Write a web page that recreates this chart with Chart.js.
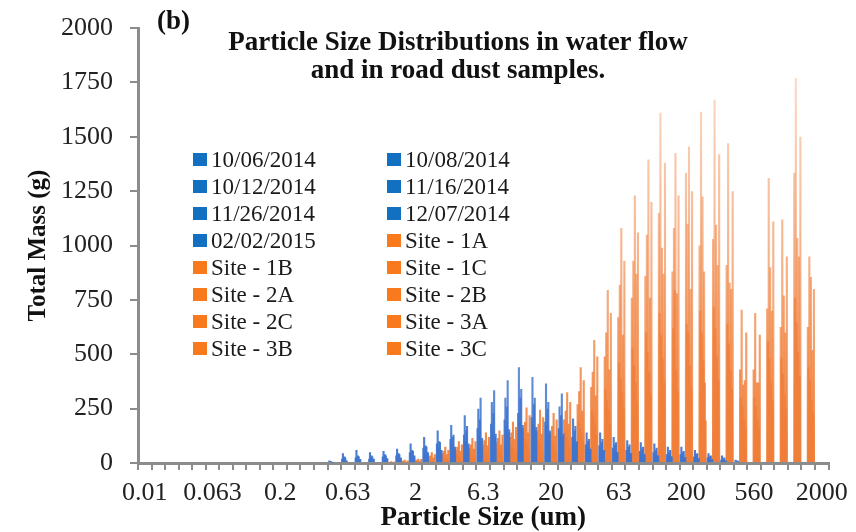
<!DOCTYPE html>
<html>
<head>
<meta charset="utf-8">
<script src="https://cdn.jsdelivr.net/npm/chart.js@4.4.1/dist/chart.umd.min.js"></script>
<style>
  html, body { margin: 0; padding: 0; background: #fff; }
</style>
</head>
<body>
<canvas id="chart-1" width="856" height="532"></canvas>
<script>
// particle size bins (um), one label shown every 5 bins
const sizes = ["0.01","0.016","0.02","0.025","0.04","0.063","0.08","0.1","0.125","0.16",
  "0.2","0.25","0.315","0.4","0.5","0.63","0.8","1","1.25","1.6",
  "2","2.5","3.15","4","5","6.3","8","10","12.5","16",
  "20","25","31.5","40","50","63","80","100","125","160",
  "200","250","300","355","425","560","630","850","1000","1400","2000"];

// water flow samples (blue)
const dateNames = ["10/06/2014","10/08/2014","10/12/2014","11/16/2014","11/26/2014","12/07/2014","02/02/2015"];
const w1006 = [0,0,0,0,0,0,0,0,0,0,0,0,0,0,5,20,25,20,30,35,50,70,90,110,130,160,180,200,230,210,190,160,120,85,80,70,60,55,50,40,40,30,25,15,5,0,0,0,0,0,0];
const w1008 = [0,0,0,0,0,0,0,0,0,0,0,0,0,0,12,45,60,50,55,65,90,120,150,175,220,250,280,300,440,395,365,260,205,140,140,120,105,95,90,75,75,60,45,35,15,0,0,0,0,0,0];
const w1012 = [0,0,0,0,0,0,0,0,0,0,0,0,0,0,3,15,20,25,25,30,40,55,70,85,100,130,150,170,190,180,170,150,110,70,65,55,50,45,40,35,30,25,20,15,5,0,0,0,0,0,0];
const w1116 = [0,0,0,0,0,0,0,0,0,0,0,0,0,0,8,30,35,35,40,45,60,80,100,120,150,200,230,260,300,270,250,220,150,100,95,85,75,65,60,50,50,40,30,20,10,0,0,0,0,0,0];
const w1126 = [0,0,0,0,0,0,0,0,0,0,0,0,0,0,6,25,30,30,35,40,55,75,95,130,170,300,335,380,340,300,280,320,170,110,110,95,85,75,70,60,55,45,35,25,10,0,0,0,0,0,0];
const w1207 = [0,0,0,0,0,0,0,0,0,0,0,0,0,0,4,10,15,15,20,20,30,45,55,65,80,100,120,140,160,150,140,120,90,60,55,50,45,40,35,30,25,20,15,10,5,0,0,0,0,0,0];
const w0202 = [0,0,0,0,0,0,0,0,0,0,0,0,0,0,2,12,18,20,22,25,35,50,60,75,90,115,135,155,175,165,150,135,100,65,60,50,45,40,35,30,28,22,18,12,4,0,0,0,0,0,0];

// road dust samples (orange)
const siteNames = ["Site - 1A","Site - 1B","Site - 1C","Site - 2A","Site - 2B","Site - 2C","Site - 3A","Site - 3B","Site - 3C"];
const s1A = [0,0,0,0,0,0,0,0,0,0,0,0,0,0,0,0,0,0,3,8,12,30,45,60,70,85,95,120,160,150,140,200,270,350,490,670,760,860,1150,880,1335,1000,1030,910,430,430,710,625,1335,625,0];
const s1B = [0,0,0,0,0,0,0,0,0,0,0,0,0,0,0,0,0,0,0,5,8,20,30,40,50,60,65,80,110,105,100,140,190,245,340,460,530,600,690,620,640,700,720,640,300,300,560,480,760,440,0];
const s1C = [0,0,0,0,0,0,0,0,0,0,0,0,0,0,0,0,0,0,5,10,15,35,55,75,85,105,115,140,190,180,170,240,330,420,600,820,930,1050,1610,1080,1100,1615,1670,1470,705,690,1310,1120,1770,950,0];
const s2A = [0,0,0,0,0,0,0,0,0,0,0,0,0,0,0,0,0,0,2,4,6,15,25,35,40,50,55,70,95,90,85,120,160,210,290,390,450,510,590,795,600,600,620,550,260,260,480,410,650,380,0];
const s2B = [0,0,0,0,0,0,0,0,0,0,0,0,0,0,0,0,0,0,8,15,20,50,75,100,115,140,150,190,255,245,230,325,440,565,795,1080,1230,1395,990,1425,1455,1225,1095,830,360,370,900,770,1035,855,0];
const s2C = [0,0,0,0,0,0,0,0,0,0,0,0,0,0,0,0,0,0,0,3,5,12,20,30,35,45,50,60,80,75,70,100,135,175,245,330,370,420,480,430,450,470,490,430,200,200,370,320,510,290,0];
const s3A = [0,0,0,0,0,0,0,0,0,0,0,0,0,0,0,0,0,0,4,6,10,25,40,55,65,80,85,110,140,135,125,180,240,310,430,590,870,760,870,780,800,880,910,800,380,370,700,600,950,520,0];
const s3B = [0,0,0,0,0,0,0,0,0,0,0,0,0,0,0,0,0,0,0,2,4,10,15,20,25,30,35,45,60,55,50,75,100,130,180,250,280,320,370,330,340,370,380,340,160,160,290,250,400,230,0];
const s3C = [0,0,0,0,0,0,0,0,0,0,0,0,0,0,0,0,0,0,6,12,18,40,60,85,100,120,130,165,220,210,200,280,380,490,690,930,1060,1200,1380,1230,1250,195,1420,1250,600,590,1110,950,1500,800,0];

const yTicks = [0, 250, 500, 750, 1000, 1250, 1500, 1750, 2000];

const serif = "'Liberation Serif', 'Times New Roman', serif";
const axisGrey = '#8c8c8c';

// bars fade out towards the top like the excel gradient fill
function fade(rgb) {
  return function(c) {
    const a = c.chart.chartArea;
    if (!a) return 'rgba(' + rgb + ',0.8)';
    const g = c.chart.ctx.createLinearGradient(0, a.bottom, 0, a.top);
    g.addColorStop(0, 'rgba(' + rgb + ',0.95)');
    g.addColorStop(1, 'rgba(' + rgb + ',0.2)');
    return g;
  };
}

const waterSets = [w1006, w1008, w1012, w1116, w1126, w1207, w0202];
const siteSets = [s1A, s1B, s1C, s2A, s2B, s2C, s3A, s3B, s3C];

const datasets = [];
waterSets.forEach(function(d, i) {
  datasets.push({ label: dateNames[i], data: d, backgroundColor: fade('62,116,206'), legendColor: '#1170c0' });
});
siteSets.forEach(function(d, i) {
  datasets.push({ label: siteNames[i], data: d, backgroundColor: fade('240,126,56'), legendColor: '#f97a1c' });
});

// 2-column legend inside the plot, plus the "(b)" tag and title
const innerText = {
  id: 'innerText',
  afterDraw(chart) {
    const ctx = chart.ctx;
    ctx.save();
    ctx.textBaseline = 'middle';
    ctx.font = 'bold 27px ' + serif;
    ctx.fillStyle = '#111';
    ctx.textAlign = 'left';
    ctx.fillText('(b)', 157, 22);
    ctx.textAlign = 'center';
    ctx.fillText('Particle Size Distributions in water flow', 458, 43);
    ctx.fillText('and in road dust samples.', 458, 71);

    ctx.font = '23px ' + serif;
    ctx.textAlign = 'left';
    chart.data.datasets.forEach(function(ds, i) {
      const x = 193 + (i % 2) * 194;
      const y = 160 + Math.floor(i / 2) * 27;
      ctx.fillStyle = ds.legendColor;
      ctx.fillRect(x, y - 7, 14, 13);
      ctx.fillStyle = '#1a1a1a';
      ctx.fillText(ds.label, x + 18, y + 1);
    });
    ctx.restore();
  }
};

new Chart(document.getElementById("chart-1"), {
  type: 'bar',
  data: { labels: sizes, datasets: datasets },
  options: {
    responsive: false,
    animation: false,
    layout: { padding: { left: 0, top: 28, right: 26, bottom: 0 } },
    datasets: { bar: { categoryPercentage: 0.9, barPercentage: 2.8, borderWidth: 0 } },
    plugins: {
      legend: { display: false },
      title: { display: false },
      tooltip: { enabled: false }
    },
    scales: {
      x: {
        grid: { drawOnChartArea: false, tickLength: 7, color: axisGrey, lineWidth: 2 },
        border: { color: axisGrey, width: 3 },
        ticks: {
          autoSkip: false, maxRotation: 0, padding: 8, color: '#222',
          font: { family: serif, size: 26 },
          callback: function(v, i) { return i % 5 === 0 ? sizes[i] : ''; }
        },
        title: { display: true, text: 'Particle Size (um)', color: '#111',
          font: { family: serif, size: 27, weight: 'bold' }, padding: { top: 0, bottom: -2 } },
        afterFit: function(s) { s.height = 69; }
      },
      y: {
        min: 0, max: 2000,
        afterBuildTicks: function(s) { s.ticks = yTicks.map(function(v) { return { value: v }; }); },
        grid: { drawOnChartArea: false, tickLength: 8, color: axisGrey, lineWidth: 2 },
        border: { color: axisGrey, width: 3 },
        ticks: { padding: 17, color: '#222', font: { family: serif, size: 26 },
          callback: function(v) { return String(v); } },
        title: { display: true, text: 'Total Mass (g)', color: '#111',
          font: { family: serif, size: 25, weight: 'bold' }, padding: { top: 24, bottom: 0 } },
        afterFit: function(s) { s.width = 138; s.paddingTop = 4; s.paddingBottom = 4; }
      }
    }
  },
  plugins: [innerText]
});
</script>
</body>
</html>
